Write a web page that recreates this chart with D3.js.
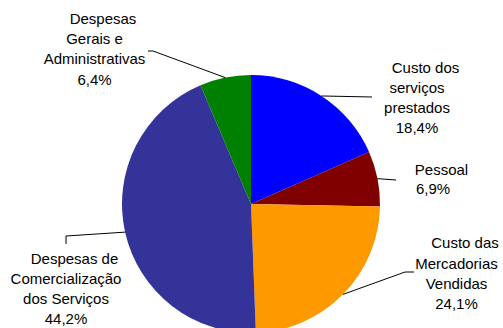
<!DOCTYPE html>
<html>
<head>
<meta charset="utf-8">
<script src="https://cdn.jsdelivr.net/npm/d3@7"></script>
<style>
  html, body { margin: 0; padding: 0; background: #fff; }
  svg text { font-family: "Liberation Sans", Arial, sans-serif; font-size: 15px; fill: #000; }
</style>
</head>
<body>
<svg id="chart" width="503" height="328"></svg>
<script>

// slices, clockwise from 12 o'clock
var categories = [
  ["Custo dos", "serviços", "prestados"],
  ["Pessoal"],
  ["Custo das", "Mercadorias", "Vendidas"],
  ["Despesas de", "Comercialização", "dos Serviços"],
  ["Despesas", "Gerais e", "Administrativas"]
];
var values = [18.4, 6.9, 24.1, 44.2, 6.4];
var percentLabels = ["18,4%", "6,9%", "24,1%", "44,2%", "6,4%"];

var colors = ["#0000ff", "#800000", "#ff9900", "#333399", "#008000"];

// label layout: text centre, first baseline, and leader line bends
var labelLayout = [
  { x: 417, y: 72.7, lh: 20, line: [[372, 97]] },
  { x: 433, y: 174.7, lh: 19.5, line: [[396, 180]] },
  { x: 456.5, y: 248.4, lh: 20.2, line: [[405, 272], [414, 272]] },
  { x: 66, y: 263.7, lh: 20, line: [[66, 236], [66, 244]] },
  { x: 94.5, y: 24, lh: 20.2, line: [[153, 51], [148, 51]] }
];

var svg = d3.select("#chart");
var cx = 251, cy = 204, r = 129;

var pie = d3.pie().sort(null).value(function(d) { return d; });
var arcs = pie(values);

var arc = d3.arc().innerRadius(0).outerRadius(r);

var g = svg.append("g").attr("transform", "translate(" + cx + "," + cy + ")");

g.selectAll("path.slice")
  .data(arcs)
  .enter().append("path")
    .attr("class", "slice")
    .attr("d", arc)
    .attr("fill", function(d, i) { return colors[i]; });

// leader lines from the middle of each slice's outer edge
var line = d3.line();
svg.selectAll("path.leader")
  .data(arcs)
  .enter().append("path")
    .attr("class", "leader")
    .attr("fill", "none")
    .attr("stroke", "#000")
    .attr("stroke-width", 1)
    .attr("d", function(d, i) {
      var a = (d.startAngle + d.endAngle) / 2;
      var start = [cx + r * Math.sin(a), cy - r * Math.cos(a)];
      return line([start].concat(labelLayout[i].line));
    });

// labels: name lines + percentage
var labels = svg.selectAll("text.label")
  .data(arcs)
  .enter().append("text")
    .attr("class", "label")
    .attr("text-anchor", "middle");

labels.each(function(d, i) {
  var t = d3.select(this),
      lay = labelLayout[i],
      lines = categories[i].concat([percentLabels[i]]);
  lines.forEach(function(s, j) {
    t.append("tspan")
      .attr("x", lay.x + (j == 0 ? 8.5 : 0))
      .attr("y", lay.y + j * lay.lh)
      .text(s);
  });
});

</script>
</body>
</html>
